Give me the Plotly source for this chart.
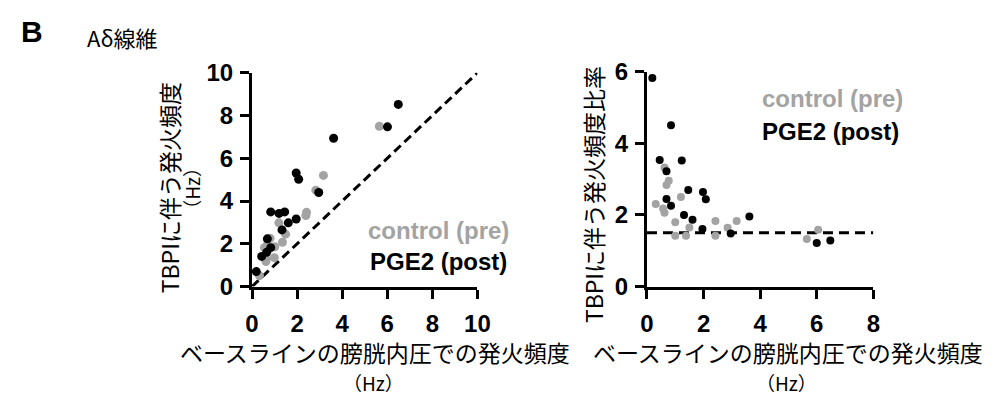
import plotly.graph_objects as go

# ---------------- data ----------------
left_pre_x = [0.33, 0.62, 0.62, 0.55, 0.69, 0.80, 0.99, 1.01, 1.19, 1.35, 1.49, 2.39, 2.42, 2.83, 3.17, 5.65, 6.09]
left_pre_y = [0.51, 1.17, 1.28, 1.82, 1.97, 2.26, 1.35, 1.86, 2.98, 2.07, 2.45, 3.32, 3.47, 4.51, 5.20, 7.50, 10.02]
left_post_x = [0.19, 0.43, 0.65, 0.83, 0.68, 0.83, 1.20, 1.45, 1.33, 1.61, 1.96, 1.96, 2.07, 2.96, 3.62, 6.01, 6.49]
left_post_y = [0.70, 1.41, 1.60, 1.82, 2.23, 3.49, 3.42, 3.49, 2.65, 2.98, 3.16, 5.31, 5.02, 4.40, 6.94, 7.47, 8.52]

right_pre_x = [0.62, 0.77, 0.69, 1.20, 0.31, 0.57, 0.62, 1.00, 1.00, 1.38, 1.50, 2.42, 2.42, 2.85, 3.17, 5.65, 6.05]
right_pre_y = [3.33, 2.96, 2.84, 2.50, 2.31, 2.18, 2.06, 1.80, 1.42, 1.42, 1.65, 1.83, 1.42, 1.64, 1.83, 1.33, 1.59]
right_post_x = [0.19, 0.85, 0.45, 1.23, 0.69, 1.46, 1.98, 2.08, 0.69, 0.85, 1.31, 1.61, 1.96, 2.96, 3.62, 6.00, 6.48]
right_post_y = [5.83, 4.51, 3.54, 3.52, 3.22, 2.70, 2.64, 2.44, 2.45, 2.26, 2.00, 1.87, 1.61, 1.48, 1.96, 1.22, 1.29]

identity_line = [0, 10]
ratio_threshold = 1.5
ratio_line_x = [0, 8]

left_ticks = [0, 2, 4, 6, 8, 10]
right_xticks = [0, 2, 4, 6, 8]
right_yticks = [0, 2, 4, 6]

xtitle = "ベースラインの膀胱内圧での発火頻度"
ytitle_left = "TBPIに伴う発火頻度"
ytitle_right = "TBPIに伴う発火頻度比率"
unit = "（Hz）"
label_pre = "control (pre)"
label_post = "PGE2 (post)"

# ---------------- layout helpers ----------------
W, H = 1001, 405
def fx(p):
    return p / W
def fy(p):
    return 1 - p / H

GRAY = "#a3a3a3"
JP = "Noto Sans CJK JP"
AR = "Arial, Liberation Sans, sans-serif"

fig = go.Figure()

# left panel
fig.add_trace(go.Scatter(x=identity_line, y=identity_line, mode="lines",
                         line=dict(color="black", width=3, dash="9px,5px"),
                         xaxis="x", yaxis="y", showlegend=False, hoverinfo="skip"))
fig.add_trace(go.Scatter(x=left_pre_x, y=left_pre_y, mode="markers",
                         marker=dict(color=GRAY, size=9), cliponaxis=False,
                         xaxis="x", yaxis="y", showlegend=False))
fig.add_trace(go.Scatter(x=left_post_x, y=left_post_y, mode="markers",
                         marker=dict(color="black", size=9), cliponaxis=False,
                         xaxis="x", yaxis="y", showlegend=False))

# right panel
fig.add_trace(go.Scatter(x=ratio_line_x, y=[ratio_threshold] * len(ratio_line_x), mode="lines",
                         line=dict(color="black", width=3, dash="10px,6px"),
                         xaxis="x2", yaxis="y2", showlegend=False, hoverinfo="skip"))
fig.add_trace(go.Scatter(x=right_pre_x, y=right_pre_y, mode="markers",
                         marker=dict(color=GRAY, size=8), cliponaxis=False,
                         xaxis="x2", yaxis="y2", showlegend=False))
fig.add_trace(go.Scatter(x=right_post_x, y=right_post_y, mode="markers",
                         marker=dict(color="black", size=8), cliponaxis=False,
                         xaxis="x2", yaxis="y2", showlegend=False))

axis_common = dict(showline=True, linecolor="black", linewidth=3, ticks="outside",
                   ticklen=9, tickwidth=3, tickcolor="black", showgrid=False, zeroline=False,
                   tickfont=dict(family=AR, size=24, color="black", weight="bold"),
                   fixedrange=True)

fig.update_layout(
    width=W, height=H, margin=dict(l=0, r=0, t=0, b=0),
    paper_bgcolor="white", plot_bgcolor="white",
    xaxis=dict(domain=[fx(250), fx(480)], range=[0, 10], tickvals=left_ticks,
               anchor="y", ticklabelstandoff=5, **axis_common),
    yaxis=dict(domain=[fy(292), fy(63)], range=[0, 10], tickvals=left_ticks,
               anchor="x", ticklabelstandoff=2, **axis_common),
    xaxis2=dict(domain=[fx(653), fx(884)], range=[0, 8], tickvals=right_xticks,
                anchor="y2", ticklabelstandoff=5, **axis_common),
    yaxis2=dict(domain=[fy(292), fy(62)], range=[0, 6], tickvals=right_yticks,
                anchor="x2", ticklabelstandoff=2, **axis_common),
)

ann = []
def add(text, x, y, size, color="black", family=JP, angle=0, xanchor="center", bold=False):
    ann.append(dict(text=text, x=fx(x), y=fy(y), xref="paper", yref="paper",
                    showarrow=False, textangle=angle, xanchor=xanchor, yanchor="middle",
                    font=dict(family=family, size=size, color=color,
                              weight="bold" if bold else "normal")))

add("B", 25, 19, 30, family=AR, bold=True)
add("Aδ線維", 80, 25, 22, xanchor="left")

add(xtitle, 376, 362, 23)
add(unit, 374, 395, 19)
add(xtitle, 797, 362, 23)
add(unit, 795, 395, 19)

add(ytitle_left, 165, 186, 23, angle=-90)
add(unit, 188, 187, 19, angle=-90)
add(ytitle_right, 598, 194, 23, angle=-90)

add(label_pre, 366, 232, 24, color=GRAY, family=AR, xanchor="left", bold=True)
add(label_post, 368, 265, 24, family=AR, xanchor="left", bold=True)
add(label_pre, 768, 90, 24, color=GRAY, family=AR, xanchor="left", bold=True)
add(label_post, 768, 126, 24, family=AR, xanchor="left", bold=True)

fig.update_layout(annotations=ann)
fig.write_html("out.html", config={"displayModeBar": False},
               post_script="document.body.style.margin='0';")
